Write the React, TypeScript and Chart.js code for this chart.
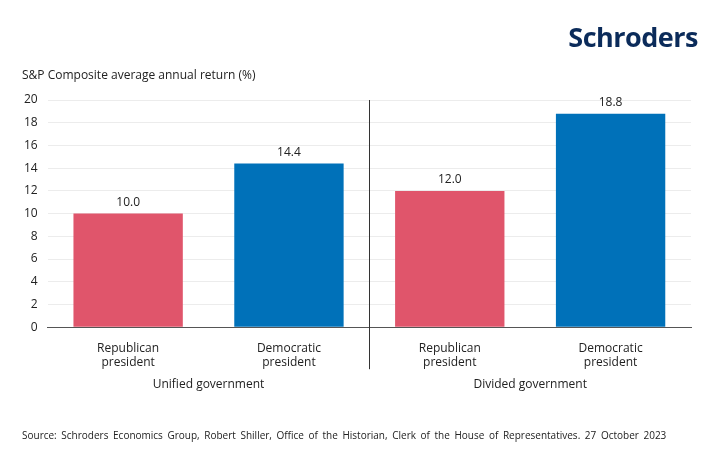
import React, { useEffect, useRef } from "react";
import { Chart, registerables } from "chart.js";
Chart.register(...registerables);

const categories = [["Republican", "president"], ["Democratic", "president"], ["Republican", "president"], ["Democratic", "president"]];
const values = [10.0, 14.4, 12.0, 18.8];
const colors = ["#e0556b", "#0071b9", "#e0556b", "#0071b9"];
const groups = ["Unified government", "Divided government"];
const FONT = "'Open Sans', 'Noto Sans', sans-serif";

const extras = {
  id: "extras",
  afterDatasetsDraw(chart: any) {
    const { ctx, chartArea, scales } = chart;
    const x = scales.x;
    const meta = chart.getDatasetMeta(0);
    ctx.save();
    ctx.font = `12px ${FONT}`;
    ctx.fillStyle = "#222";
    ctx.textAlign = "center";
    ctx.textBaseline = "bottom";
    meta.data.forEach((b: any, i: number) => ctx.fillText(values[i].toFixed(1), b.x, b.y - 5));
    const mid = (x.getPixelForValue(1) + x.getPixelForValue(2)) / 2;
    ctx.strokeStyle = "#333";
    ctx.lineWidth = 1;
    ctx.beginPath();
    ctx.moveTo(Math.round(mid) + 0.5, chartArea.top);
    ctx.lineTo(Math.round(mid) + 0.5, chartArea.bottom + 42);
    ctx.stroke();
    ctx.textBaseline = "middle";
    groups.forEach((g, i) => {
      const cx = (x.getPixelForValue(i * 2) + x.getPixelForValue(i * 2 + 1)) / 2;
      ctx.fillText(g, cx, chartArea.bottom + 57);
    });
    ctx.restore();
  },
};

export default function App() {
  const ref = useRef<HTMLCanvasElement>(null);
  useEffect(() => {
    const chart = new Chart(ref.current!, {
      type: "bar",
      data: { labels: categories, datasets: [{ data: values, backgroundColor: colors, categoryPercentage: 1, barPercentage: 0.68 }] },
      options: {
        animation: false,
        responsive: false,
        layout: { padding: { left: 14, right: 29, top: 100, bottom: 84 } },
        plugins: { legend: { display: false }, tooltip: { enabled: false } },
        scales: {
          y: {
            min: 0, max: 20,
            ticks: { stepSize: 2, color: "#222", font: { family: FONT, size: 12 }, padding: 10 },
            grid: { color: "#ececec", drawTicks: false },
            border: { display: false },
          },
          x: {
            ticks: { color: "#222", font: { family: FONT, size: 12 }, padding: 6 },
            grid: { display: false },
            border: { color: "#555" },
          },
        },
      },
      plugins: [extras],
    });
    return () => chart.destroy();
  }, []);
  return (
    <div style={{ position: "relative", width: 720, height: 460, margin: -8, background: "#fff", fontFamily: FONT }}>
      <div style={{ position: "absolute", right: 22, top: 18, fontSize: 27, fontWeight: 700, color: "#0b2b5a", letterSpacing: -0.5 }}>Schroders</div>
      <div style={{ position: "absolute", left: 22, top: 66, fontSize: 12, color: "#222" }}>S&amp;P Composite average annual return (%)</div>
      <div style={{ position: "absolute", left: 22, top: 428, fontSize: 10, color: "#222", wordSpacing: 2 }}>Source: Schroders Economics Group, Robert Shiller, Office of the Historian, Clerk of the House of Representatives. 27 October 2023</div>
      <canvas ref={ref} width={720} height={460} style={{ display: "block" }} />
    </div>
  );
}
